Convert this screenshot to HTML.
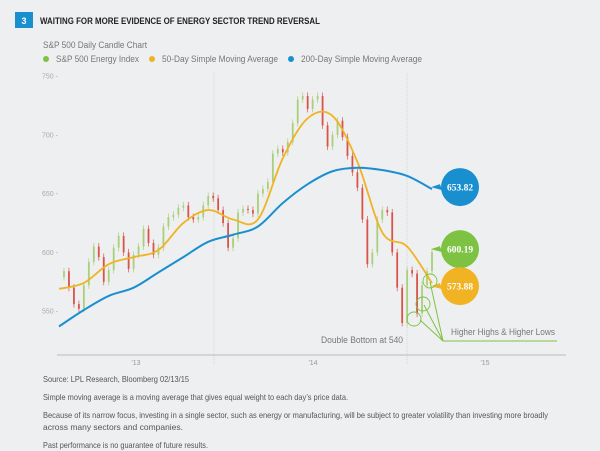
<!DOCTYPE html>
<html><head><meta charset="utf-8">
<style>
body{margin:0;background:#eeeff0;width:600px;height:451px;overflow:hidden;font-family:"Liberation Sans",sans-serif;}
svg{position:absolute;left:0;top:0}
</style></head>
<body>
<svg id="c" width="600" height="451" viewBox="0 0 600 451">
<rect x="15" y="12" width="18" height="16" fill="#1a8fd0"/>
<text x="24" y="24" fill="#fff" font-size="9" font-weight="bold" text-anchor="middle">3</text>
<text x="40" y="24" fill="#222" font-size="9.5" font-weight="bold" textLength="280" lengthAdjust="spacingAndGlyphs">WAITING FOR MORE EVIDENCE OF ENERGY SECTOR TREND REVERSAL</text>
<text x="43" y="48" fill="#777" font-size="9" textLength="104" lengthAdjust="spacingAndGlyphs">S&amp;P 500  Daily Candle Chart</text>
<g>
<circle cx="46" cy="59" r="3" fill="#7dc242"/>
<text x="56" y="62" fill="#777" font-size="9" textLength="83" lengthAdjust="spacingAndGlyphs">S&amp;P 500 Energy Index</text>
<circle cx="152" cy="59" r="3" fill="#f0b323"/>
<text x="162" y="62" fill="#777" font-size="9" textLength="116" lengthAdjust="spacingAndGlyphs">50-Day Simple Moving Average</text>
<circle cx="291" cy="59" r="3" fill="#1a8fd0"/>
<text x="301" y="62" fill="#777" font-size="9" textLength="121" lengthAdjust="spacingAndGlyphs">200-Day Simple Moving Average</text>
</g>
<g id="plot"></g>
<g fill="#555" font-size="8.5">
<text x="43" y="382" textLength="146" lengthAdjust="spacingAndGlyphs">Source: LPL Research, Bloomberg  02/13/15</text>
<text x="43" y="400" textLength="305" lengthAdjust="spacingAndGlyphs">Simple moving average is a moving average that gives equal weight to each day’s price data.</text>
<text x="43" y="418" textLength="505" lengthAdjust="spacingAndGlyphs">Because of its narrow focus, investing in a single sector, such as energy or manufacturing, will be subject to greater volatility than investing more broadly</text>
<text x="43" y="430" textLength="140" lengthAdjust="spacingAndGlyphs">across many sectors and companies.</text>
<text x="43" y="448" textLength="165" lengthAdjust="spacingAndGlyphs">Past performance is no guarantee of future results.</text>
</g>
</svg>
<script>
const closes=[579,584,570,556,552,572,592,605,596,575,585,604,614,600,586,598,605,620,608,598,604,622,630,632,638,640,630,628,630,640,648,646,636,625,604,612,634,637,636,633,650,654,660,684,688,685,694,710,730,733,722,730,733,708,690,700,712,698,682,668,655,628,590,600,628,636,634,600,570,540,585,582,548,572,584,600.19];
const ma50=[569,574,590,596,602,625,636,628,628,680,714,716,677,617,605,573.88];
const ma200=[537,551,563,570,583,596,609,615,622,642,658,669,672,670,665,653.82];
const yTicks=[550,600,650,700,750];
const xLabels=["'13","'14","'15"];
const xLabelPos=[136,313,485];
const NS="http://www.w3.org/2000/svg";
const X0=59,X1=432;
function y(v){return 76+(750-v)*58.8/50;}
function xi(i,n){return X0+(X1-X0)*i/(n-1);}
const g=document.getElementById('plot');
function mk(t,a){const e=document.createElementNS(NS,t);for(const k in a)e.setAttribute(k,a[k]);g.appendChild(e);return e;}
[214,407].forEach(px=>{const l=mk('line',{x1:px,x2:px,y1:73,y2:365,stroke:'#c8c9cb','stroke-width':0.7,'stroke-dasharray':'1 1'});

});
const ax=mk('line',{x1:57,x2:566,y1:355,y2:355,stroke:'#bbb','stroke-width':1});


yTicks.forEach(v=>{const t=mk('text',{x:42,y:y(v)+2.5,'font-size':7,fill:'#aaa'});t.textContent=v+' -';

});
xLabels.forEach((s,i)=>{const t=mk('text',{x:xLabelPos[i],y:365,'font-size':7,fill:'#999','text-anchor':'middle'});t.textContent=s;

});
closes.forEach((c,i)=>{if(i===0)return;const o=closes[i-1];const x=xi(i,closes.length);
const col=c>=o?'#a9cf7a':'#d9534a';
const hi=Math.max(o,c)+3,lo=Math.min(o,c)-3;
const w=mk('line',{x1:x,x2:x,y1:y(hi),y2:y(lo),stroke:col,'stroke-width':0.7});


const b=mk('rect',{x:x-0.9,y:y(Math.max(o,c)),width:1.8,height:Math.max(1,y(Math.min(o,c))-y(Math.max(o,c))),fill:col});

});
function smooth(arr){const pts=arr.map((v,i)=>[xi(i,arr.length),y(v)]);let d='M'+pts[0];
for(let i=0;i<pts.length-1;i++){const p0=pts[i-1]||pts[i],p1=pts[i],p2=pts[i+1],p3=pts[i+2]||p2;
d+=' C'+(p1[0]+(p2[0]-p0[0])/6)+','+(p1[1]+(p2[1]-p0[1])/6)+' '+(p2[0]-(p3[0]-p1[0])/6)+','+(p2[1]-(p3[1]-p1[1])/6)+' '+p2;}return d;}
const l50=mk('path',{d:smooth(ma50),fill:'none',stroke:'#f0b323','stroke-width':1.8});


const l200=mk('path',{d:smooth(ma200),fill:'none',stroke:'#1a8fd0','stroke-width':2});


function bubble(cy,col,label,name){const cx=460;
const p=mk('path',{d:`M${cx-20},${cy-3} L${cx-29},${cy} L${cx-18},${cy+3} Z`,fill:col});


const c=mk('circle',{cx:cx,cy:cy,r:19,fill:col});


const t=mk('text',{x:cx,y:cy+3.5,'font-size':9.5,'font-weight':'bold',fill:'#fff','text-anchor':'middle','font-family':'Liberation Serif,serif'});t.textContent=label;

}
bubble(y(ma200[ma200.length-1])-2,'#1a8fd0',ma200[ma200.length-1].toFixed(2),'ma200');
bubble(y(closes[closes.length-1])-3,'#7dc242',closes[closes.length-1].toFixed(2),'energy');
bubble(y(ma50[ma50.length-1])+3,'#f0b323',ma50[ma50.length-1].toFixed(2),'ma50');
const hl=mk('path',{d:'M557,341 L443,341 L420,320 M443,341 L424,305 M443,341 L430,282',fill:'none',stroke:'#7dc242','stroke-width':1});


[[414,319],[423,304],[430,281]].forEach(p=>{const c=mk('circle',{cx:p[0],cy:p[1],r:7,fill:'none',stroke:'#7dc242','stroke-width':0.9});

});
const t1=mk('text',{x:451,y:335,'font-size':9,fill:'#777',textLength:104,lengthAdjust:'spacingAndGlyphs'});t1.textContent='Higher Highs & Higher Lows';


const t2=mk('text',{x:403,y:343,'font-size':9,fill:'#777','text-anchor':'end',textLength:82,lengthAdjust:'spacingAndGlyphs'});t2.textContent='Double Bottom at 540';


</script>
</body></html>
